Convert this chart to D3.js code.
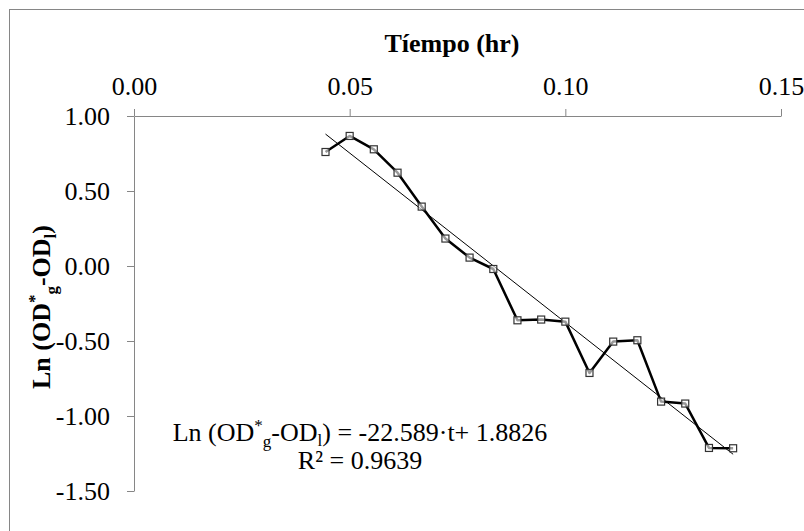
<!DOCTYPE html>
<html><head><meta charset="utf-8">
<script src="https://cdn.jsdelivr.net/npm/d3@7"></script>
<style>
html,body{margin:0;padding:0;background:#fff;}
svg{display:block;}
</style></head>
<body>
<svg id="chart" width="804" height="531"></svg>
<script>
const times = [0.0444,0.0500,0.0556,0.0611,0.0667,0.0722,0.0778,0.0833,0.0889,0.0944,0.1000,0.1056,0.1111,0.1167,0.1222,0.1278,0.1333,0.1389];
const lnValues = [0.760,0.867,0.778,0.622,0.396,0.183,0.056,-0.020,-0.362,-0.357,-0.371,-0.713,-0.504,-0.495,-0.904,-0.917,-1.213,-1.215];
const xTicks = [0,0.05,0.10,0.15];
const yTicks = [1.0,0.5,0.0,-0.5,-1.0,-1.5];
const trendSlope = -22.589;
const trendIntercept = 1.8826;
const rSquared = 0.9639;

const FONT = '"Liberation Serif"';
const svg = d3.select("#chart");
const x = d3.scaleLinear().domain([0,0.15]).range([134,781]);
const y = d3.scaleLinear().domain([-1.5,1.0]).range([491,116]);
const axisColor = "#868686";
const fmt = d => d3.format(".2f")(d).replace("−","-");

// chart border (left & top visible)
svg.append("rect").attr("x",9.5).attr("y",9.5).attr("width",900).attr("height",900)
  .attr("fill","none").attr("stroke",axisColor).attr("stroke-width",1);

// top x axis
const gx = svg.append("g").attr("transform",`translate(0,${y(1.0)})`)
  .call(d3.axisTop(x).tickValues(xTicks).tickFormat(fmt).tickSize(7).tickSizeOuter(0).tickPadding(14));
gx.selectAll("path,line").attr("stroke",axisColor);
gx.selectAll("text").attr("font-size",26).attr("fill","#000").style("font-family",FONT);

// left y axis
const gy = svg.append("g").attr("transform",`translate(${x(0)},0)`)
  .call(d3.axisLeft(y).tickValues(yTicks).tickFormat(fmt).tickSize(7).tickSizeOuter(0).tickPadding(17));
gy.selectAll("path,line").attr("stroke",axisColor);
gy.selectAll("text").attr("font-size",26).attr("fill","#000").style("font-family",FONT);

// x title
svg.append("text").attr("x",452).attr("y",52).attr("text-anchor","middle").style("font-family",FONT)
  .attr("font-size",26).attr("font-weight","bold").text("Tíempo (hr)");

// y title
const yt = svg.append("text").attr("transform","translate(50,307) rotate(-90)").style("font-family",FONT)
  .attr("text-anchor","middle").attr("font-size",26).attr("font-weight","bold");
yt.append("tspan").text("Ln (OD");
yt.append("tspan").attr("font-size",17).attr("dy",-10).text("*");
yt.append("tspan").attr("font-size",17).attr("dy",17).text("g");
yt.append("tspan").attr("dy",-7).text("-OD");
yt.append("tspan").attr("font-size",17).attr("dy",6).text("l");
yt.append("tspan").attr("dy",-6).text(")");

// trend line
const tr = [times[0], times[times.length-1]];
svg.append("line")
  .attr("x1",x(tr[0])).attr("y1",y(trendSlope*tr[0]+trendIntercept))
  .attr("x2",x(tr[1])).attr("y2",y(trendSlope*tr[1]+trendIntercept))
  .attr("stroke","#000").attr("stroke-width",1);

// data line
const pts = times.map((t,i)=>[t,lnValues[i]]);
svg.append("path").datum(pts)
  .attr("d",d3.line().x(d=>x(d[0])).y(d=>y(d[1])))
  .attr("fill","none").attr("stroke","#000").attr("stroke-width",2.5).attr("stroke-linejoin","round");

// markers
svg.append("g").selectAll("rect").data(pts).join("rect")
  .attr("x",d=>x(d[0])-3.5).attr("y",d=>y(d[1])-3.5).attr("width",7).attr("height",7)
  .attr("fill","#fff").attr("fill-opacity",0.6).attr("stroke","#333").attr("stroke-width",1.2);

// equation label
const eq = svg.append("text").attr("x",360).attr("y",441).attr("text-anchor","middle").attr("font-size",26).style("font-family",FONT);
eq.append("tspan").text("Ln (OD");
eq.append("tspan").attr("font-size",17).attr("dy",-10).text("*");
eq.append("tspan").attr("font-size",17).attr("dy",16).text("g");
eq.append("tspan").attr("dy",-6).text("-OD");
eq.append("tspan").attr("font-size",17).attr("dy",5).text("l");
eq.append("tspan").attr("dy",-5).text(`) = ${trendSlope}·t+ ${trendIntercept}`);
svg.append("text").attr("x",360).attr("y",469).attr("text-anchor","middle").attr("font-size",26).style("font-family",FONT)
  .text(`R² = ${rSquared}`);
</script>
</body></html>
